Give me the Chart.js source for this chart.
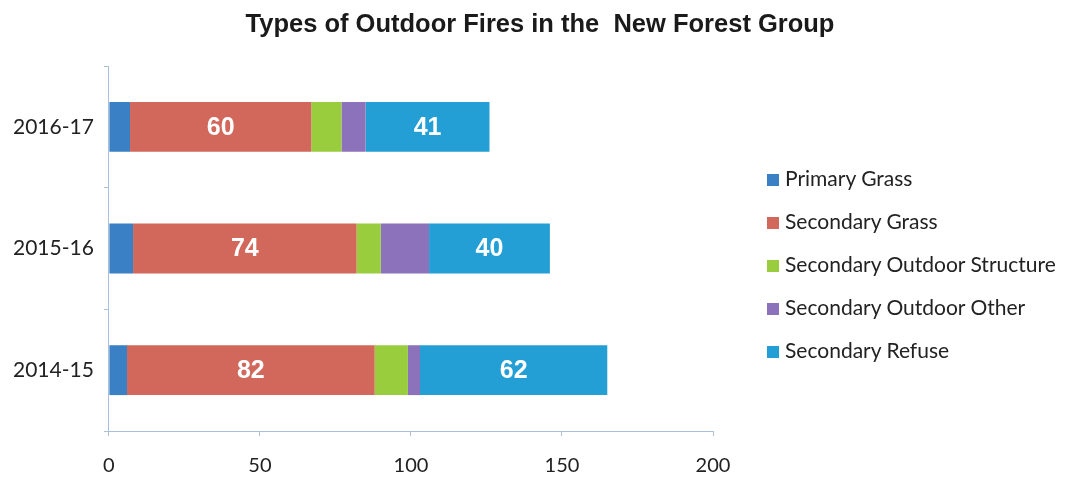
<!DOCTYPE html>
<html>
<head>
<meta charset="utf-8">
<script src="https://cdn.jsdelivr.net/npm/chart.js@4/dist/chart.umd.min.js"></script>
<style>
  html, body { margin: 0; padding: 0; background: #fff; }
  #wrap { position: relative; width: 1066px; height: 477px; }
  #title { position: absolute; left: 0; width: 1080px; top: 9px; text-align: center; font-family: "Liberation Sans", Arial, sans-serif; font-weight: bold; font-size: 25.5px; color: #1a1a1a; }
  #legend { position: absolute; left: 767px; top: 165px; font-family: Lato, "Open Sans", sans-serif; font-size: 21px; color: #222; }
  #legend .item { height: 43px; display: flex; align-items: flex-start; white-space: nowrap; }
  #legend .box { width: 12px; height: 12px; margin: 9px 6px 0 0; }
</style>
</head>
<body>
<div id="wrap">
  <canvas id="chart" width="1066" height="477"></canvas>
  <div id="title">Types of Outdoor Fires in the&nbsp; New Forest Group</div>
  <div id="legend"></div>
</div>
<script>
// 年度
var YEARS = ['2016-17', '2015-16', '2014-15'];

// 種類ごとの件数
var PRIMARY_GRASS = [7, 8, 6];
var SECONDARY_GRASS = [60, 74, 82];
var SECONDARY_STRUCTURE = [10, 8, 11];
var SECONDARY_OTHER = [8, 16, 4];
var SECONDARY_REFUSE = [41, 40, 62];

var X_TICKS = [0, 50, 100, 150, 200];

var SERIES = [
  { label: 'Primary Grass', data: PRIMARY_GRASS, color: '#3a80c4', showValue: false },
  { label: 'Secondary Grass', data: SECONDARY_GRASS, color: '#d2685b', showValue: true },
  { label: 'Secondary Outdoor Structure', data: SECONDARY_STRUCTURE, color: '#9acd3e', showValue: false },
  { label: 'Secondary Outdoor Other', data: SECONDARY_OTHER, color: '#8b72bb', showValue: false },
  { label: 'Secondary Refuse', data: SECONDARY_REFUSE, color: '#239fd6', showValue: true }
];

// 値ラベル（白抜き）
var valueLabels = {
  id: 'valueLabels',
  afterDatasetsDraw: function(chart) {
    var ctx = chart.ctx;
    ctx.save();
    ctx.fillStyle = '#ffffff';
    ctx.font = 'bold 25px "Liberation Sans", Arial, sans-serif';
    ctx.textAlign = 'center';
    ctx.textBaseline = 'middle';
    chart.data.datasets.forEach(function(ds, i) {
      if (!SERIES[i].showValue) return;
      chart.getDatasetMeta(i).data.forEach(function(bar, j) {
        var cx = (bar.x + bar.base) / 2;
        ctx.fillText(String(ds.data[j]), cx, bar.y + 1);
      });
    });
    ctx.restore();
  }
};

function buildLegend() {
  var el = document.getElementById('legend');
  SERIES.forEach(function(s) {
    var item = document.createElement('div');
    item.className = 'item';
    var box = document.createElement('span');
    box.className = 'box';
    box.style.background = s.color;
    var txt = document.createElement('span');
    txt.textContent = s.label;
    item.appendChild(box);
    item.appendChild(txt);
    el.appendChild(item);
  });
}

function render() {
  var datasets = SERIES.map(function(s) {
    return {
      label: s.label,
      data: s.data,
      backgroundColor: s.color,
      borderWidth: 0,
      barPercentage: 0.41,
      categoryPercentage: 1.0
    };
  });

  new Chart(document.getElementById('chart'), {
    type: 'bar',
    data: { labels: YEARS, datasets: datasets },
    plugins: [valueLabels],
    options: {
      indexAxis: 'y',
      responsive: false,
      animation: false,
      layout: { padding: { left: 3, right: 353, top: 66, bottom: -19 } },
      plugins: {
        title: { display: false },
        legend: { display: false },
        tooltip: { enabled: false }
      },
      scales: {
        x: {
          stacked: true,
          min: 0,
          max: 200,
          afterBuildTicks: function(axis) {
            axis.ticks = X_TICKS.map(function(v) { return { value: v }; });
          },
          grid: { drawOnChartArea: false, drawTicks: true, tickLength: 5, color: '#a9c1de' },
          border: { display: true, color: '#a9c1de', dash: [2, 2] },
          ticks: {
            color: '#222',
            font: { family: 'Lato, "Open Sans", sans-serif', size: 20 },
            padding: 18
          }
        },
        y: {
          stacked: true,
          grid: { drawOnChartArea: false, drawTicks: true, tickLength: 5, color: '#a9c1de', offset: true },
          border: { display: true, color: '#a9c1de', dash: [2, 2] },
          ticks: {
            color: '#222',
            font: { family: 'Lato, "Open Sans", sans-serif', size: 21 },
            padding: 10
          }
        }
      }
    }
  });
}

buildLegend();
Promise.all([
  document.fonts.load('20px Lato'),
  document.fonts.load('bold 25px "Liberation Sans"')
]).then(render, render);
</script>
</body>
</html>
